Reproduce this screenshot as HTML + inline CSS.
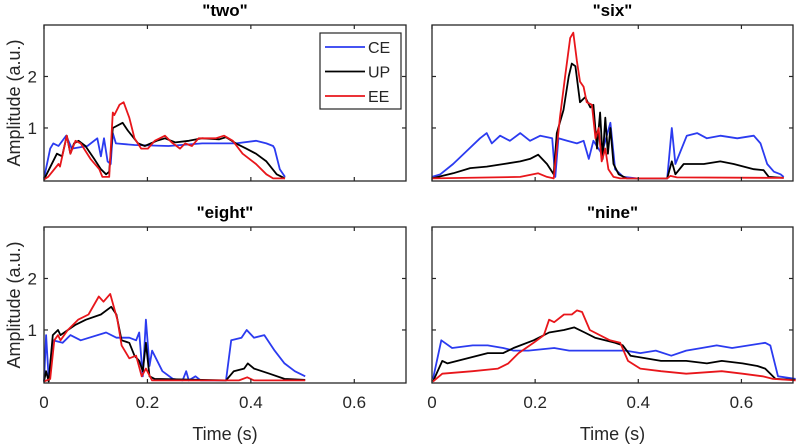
<!DOCTYPE html>
<html><head><meta charset="utf-8"><style>
html,body{margin:0;padding:0;background:#fff;}
svg{display:block;font-family:"Liberation Sans",Arial,sans-serif;}
</style></head><body>
<svg id="fig" width="796" height="446" viewBox="0 0 796 446" xmlns="http://www.w3.org/2000/svg"></svg>
<script>
// ---- data (time in s, amplitude in a.u.) ----
const twoCE_t=[0,.012,.018,.028,.043,.054,.084,.103,.110,.116,.123,.129,.133,.139,.175,.241,.306,.371,.410,.430,.443,.446,.456,.466];
const twoCE_v=[.02,.6,.7,.65,.85,.6,.65,.8,.45,.8,.35,.3,.9,.7,.67,.65,.7,.7,.75,.7,.65,.6,.2,.05];
const twoUP_t=[0,.005,.025,.035,.044,.051,.058,.067,.080,.097,.110,.120,.126,.133,.152,.162,.182,.195,.218,.234,.254,.280,.306,.339,.352,.371,.391,.410,.430,.450,.466];
const twoUP_v=[0,.1,.5,.45,.85,.5,.7,.75,.65,.4,.2,.1,.15,1.0,1.1,.95,.7,.65,.75,.8,.72,.75,.8,.78,.82,.7,.6,.5,.35,.1,.02];
const twoEE_t=[0,.008,.028,.031,.044,.051,.061,.071,.090,.107,.113,.126,.133,.136,.146,.154,.165,.175,.188,.201,.214,.234,.247,.263,.273,.286,.299,.332,.348,.365,.384,.410,.430,.443,.466];
const twoEE_v=[0,.05,.3,.25,.85,.5,.75,.7,.4,.2,.05,.05,1.3,1.25,1.45,1.5,1.2,.8,.6,.6,.75,.85,.72,.6,.7,.65,.8,.8,.85,.75,.5,.3,.1,.02,.02];

const sixCE_t=[0,.016,.041,.067,.093,.106,.116,.132,.151,.171,.190,.210,.233,.237,.239,.245,.262,.281,.294,.304,.313,.329,.346,.355,.371,.397,.456,.465,.472,.494,.514,.533,.559,.592,.624,.637,.650,.663,.676,.682];
const sixCE_v=[.05,.1,.3,.55,.8,.9,.7,.85,.75,.9,.75,.85,.8,.3,.05,.8,.75,.7,.75,.4,.75,.5,1.1,.2,.05,.02,.02,1.0,.3,.85,.9,.8,.85,.8,.85,.7,.3,.15,.1,.05];
const sixUP_t=[0,.041,.074,.106,.139,.171,.190,.206,.223,.236,.242,.255,.265,.271,.278,.287,.297,.307,.313,.320,.326,.331,.336,.341,.346,.352,.362,.378,.456,.465,.472,.488,.527,.559,.585,.624,.643,.653,.682];
const sixUP_v=[.02,.12,.22,.25,.3,.35,.4,.48,.3,.1,.9,1.35,2.0,2.25,2.2,1.5,1.6,1.4,1.45,.6,1.3,.4,1.2,.5,1.0,.3,.1,.02,.02,.35,.1,.3,.3,.35,.3,.2,.18,.05,.03];
const sixEE_t=[0,.171,.206,.223,.236,.248,.258,.268,.274,.281,.287,.294,.300,.310,.317,.323,.329,.336,.342,.352,.365,.456,.462,.475,.682];
const sixEE_v=[.02,.05,.12,.05,.02,1.2,2.0,2.75,2.85,2.3,1.9,1.8,1.5,1.45,.8,1.0,.35,.6,.2,.05,.02,.02,.07,.04,.03];

const eightCE_t=[0,.004,.009,.017,.036,.051,.071,.120,.140,.165,.178,.184,.191,.197,.204,.209,.229,.249,.268,.275,.280,.293,.303,.352,.362,.382,.392,.406,.426,.446,.465,.485,.505];
const eightCE_v=[0,.9,.05,.8,.75,.9,.8,.95,.85,.85,.8,.95,.1,1.2,.3,.6,.2,.05,.02,.2,.02,.1,.02,.02,.8,.85,1.0,.85,.9,.6,.35,.2,.1];
const eightUP_t=[0,.004,.009,.017,.027,.032,.061,.081,.110,.130,.140,.150,.165,.175,.184,.191,.197,.204,.214,.352,.367,.387,.394,.406,.436,.465,.505];
const eightUP_v=[0,.2,0,.9,1.0,.9,1.1,1.2,1.3,1.45,1.3,.8,.75,.5,.4,.2,.75,.1,.05,.02,.2,.25,.35,.25,.15,.05,.03];
const eightEE_t=[0,.012,.020,.027,.032,.046,.066,.086,.106,.115,.128,.142,.150,.165,.178,.189,.197,.209,.377,.393,.406,.505];
const eightEE_v=[0,.05,.8,.9,.8,1.0,1.2,1.3,1.65,1.55,1.7,1.2,.7,.45,.5,.1,.25,.02,.02,.08,.02,.02];

const nineCE_t=[.002,.018,.039,.079,.108,.138,.158,.187,.237,.266,.345,.375,.404,.434,.464,.493,.523,.552,.582,.646,.656,.671,.705];
const nineCE_v=[.05,.8,.65,.7,.7,.65,.6,.6,.65,.6,.6,.6,.55,.6,.5,.6,.65,.7,.65,.75,.7,.1,.05];
const nineUP_t=[.002,.020,.030,.069,.108,.138,.158,.197,.227,.256,.276,.296,.316,.355,.370,.385,.414,.444,.493,.533,.562,.602,.631,.646,.666,.705];
const nineUP_v=[0,.4,.35,.45,.55,.55,.65,.8,.95,1.0,1.05,.95,.85,.75,.7,.5,.45,.4,.4,.35,.4,.35,.3,.25,.05,.03];
const nineEE_t=[.002,.020,.079,.128,.148,.168,.197,.217,.227,.237,.256,.271,.281,.291,.306,.345,.365,.380,.404,.444,.493,.562,.602,.641,.661,.705];
const nineEE_v=[0,.15,.2,.25,.35,.55,.75,.9,1.2,1.15,1.3,1.3,1.38,1.35,1.0,.8,.75,.4,.25,.2,.15,.2,.15,.1,.05,.02];

const xTicks=[0,0.2,0.4,0.6];
const xTickLabels=["0","0.2","0.4","0.6"];
const yTicks=[1,2];
const yTickLabels=["1","2"];
const seriesNames=["CE","UP","EE"];
const seriesColors=["#2b3bf0","#000000","#e8161b"];

const panels=[
 {name:"two",title:'"two"',x:44,y:25,w:362,h:156,left:true,bottom:false,data:[[twoCE_t,twoCE_v],[twoUP_t,twoUP_v],[twoEE_t,twoEE_v]]},
 {name:"six",title:'"six"',x:432,y:25,w:361,h:156,left:false,bottom:false,data:[[sixCE_t,sixCE_v],[sixUP_t,sixUP_v],[sixEE_t,sixEE_v]]},
 {name:"eight",title:'"eight"',x:44,y:227,w:362,h:156,left:true,bottom:true,data:[[eightCE_t,eightCE_v],[eightUP_t,eightUP_v],[eightEE_t,eightEE_v]]},
 {name:"nine",title:'"nine"',x:432,y:227,w:361,h:156,left:false,bottom:true,data:[[nineCE_t,nineCE_v],[nineUP_t,nineUP_v],[nineEE_t,nineEE_v]]}
];
const XMAX=0.7, YMIN=-0.03, YMAX=3.0;
const NS="http://www.w3.org/2000/svg";
const fig=document.getElementById('fig');
function mk(tag,attrs,parent){const e=document.createElementNS(NS,tag);for(const k in attrs)e.setAttribute(k,attrs[k]);(parent||fig).appendChild(e);return e;}

panels.forEach(p=>{
  const sx=t=>p.x+t/XMAX*p.w;
  const sy=v=>p.y+p.h-(v-YMIN)/(YMAX-YMIN)*p.h;
  const g=mk('g',{});
  
  
  const tt=mk('text',{x:p.x+p.w/2,y:p.y-9,'text-anchor':'middle','font-size':'17','font-weight':'bold',fill:'#000'},g);
  tt.textContent=p.title;
  
  
  // series
  p.data.forEach((d,i)=>{
    const pts=d[0].map((t,k)=>sx(t).toFixed(1)+','+sy(d[1][k]).toFixed(1)).join(' ');
    const pl=mk('polyline',{points:pts,fill:'none',stroke:seriesColors[i],'stroke-width':'1.8','stroke-linejoin':'round'},g);
    
    
  });
  // box
  const bx=mk('rect',{x:p.x,y:p.y,width:p.w,height:p.h,fill:'none',stroke:'#262626','stroke-width':'1.3'},g);
  
  
  xTicks.forEach((t,i)=>{
    const X=sx(t);
    mk('line',{x1:X,x2:X,y1:p.y+p.h,y2:p.y+p.h-4,stroke:'#262626','stroke-width':'1.2'},g);
    mk('line',{x1:X,x2:X,y1:p.y,y2:p.y+4,stroke:'#262626','stroke-width':'1.2'},g);
    if(p.bottom){
      const lb=mk('text',{x:X,y:p.y+p.h+25,'text-anchor':'middle','font-size':'17',fill:'#262626'},g);
      lb.textContent=xTickLabels[i];
      
      
    }
  });
  yTicks.forEach((v,i)=>{
    const Y=sy(v);
    mk('line',{x1:p.x,x2:p.x+4,y1:Y,y2:Y,stroke:'#262626','stroke-width':'1.2'},g);
    mk('line',{x1:p.x+p.w,x2:p.x+p.w-4,y1:Y,y2:Y,stroke:'#262626','stroke-width':'1.2'},g);
    if(p.left){
      const lb=mk('text',{x:p.x-7,y:Y+6,'text-anchor':'end','font-size':'17',fill:'#262626'},g);
      lb.textContent=yTickLabels[i];
      
      
    }
  });
  if(p.left){
    const yl=mk('text',{x:0,y:0,'text-anchor':'middle','font-size':'18',fill:'#262626',transform:'translate(20,'+(p.y+p.h/2)+') rotate(-90)'},g);
    yl.textContent='Amplitude (a.u.)';
    
    
  }
  if(p.bottom){
    const xl=mk('text',{x:p.x+p.w/2,y:440,'text-anchor':'middle','font-size':'18',fill:'#262626'},g);
    xl.textContent='Time (s)';
    
    
  }
});
// legend
const lg=mk('g',{});


mk('rect',{x:320,y:33,width:81,height:76,fill:'#fff',stroke:'#262626','stroke-width':'1.2'},lg);
seriesNames.forEach((n,i)=>{
  const Y=47+i*24.5;
  const ln=mk('line',{x1:325,x2:365,y1:Y,y2:Y,stroke:seriesColors[i],'stroke-width':'1.8'},lg);
  
  
  const tx=mk('text',{x:368,y:Y+6,'font-size':'16',fill:'#262626'},lg);
  tx.textContent=n;
  
  
});
</script>
</body></html>
